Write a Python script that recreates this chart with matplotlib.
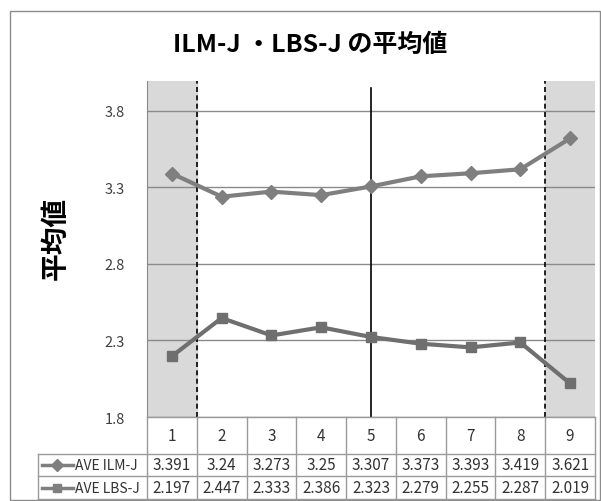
import matplotlib.pyplot as plt
from matplotlib.patches import Rectangle
from matplotlib.lines import Line2D

plt.rcParams['font.family'] = ['Noto Sans CJK JP', 'DejaVu Sans']

categories = ['1', '2', '3', '4', '5', '6', '7', '8', '9']
ilm = [3.391, 3.24, 3.273, 3.25, 3.307, 3.373, 3.393, 3.419, 3.621]
lbs = [2.197, 2.447, 2.333, 2.386, 2.323, 2.279, 2.255, 2.287, 2.019]
ilm_labels = ['3.391', '3.24', '3.273', '3.25', '3.307', '3.373', '3.393', '3.419', '3.621']
lbs_labels = ['2.197', '2.447', '2.333', '2.386', '2.323', '2.279', '2.255', '2.287', '2.019']
yticks = [1.8, 2.3, 2.8, 3.3, 3.8]

W, H = 601, 502
fig = plt.figure(figsize=(W / 100, H / 100), dpi=100)

def fx(px):
    return px / W

def fy(py):
    return 1 - py / H

# outer chart border
fig.patches.append(Rectangle((fx(10), fy(501)), fx(590), 489 / H, transform=fig.transFigure,
                             fill=False, edgecolor='#8c8c8c', lw=1))

ax = fig.add_axes([fx(147), fy(418), fx(448), 336 / H])
n = len(categories)
x = list(range(1, n + 1))
ax.set_xlim(0.5, n + 0.5)
ax.set_ylim(1.8, 3.996)

ax.axvspan(0.5, 1.5, color='#d9d9d9', zorder=0)
ax.axvspan(n - 0.5, n + 0.5, color='#d9d9d9', zorder=0)
for t in yticks:
    ax.axhline(t, color='#8a8a8a', lw=1, zorder=1)
ax.axvline(1.5, color='black', ls=(0, (3, 2)), lw=1.2, zorder=2)
ax.axvline(n - 0.5, color='black', ls=(0, (3, 2)), lw=1.2, zorder=2)
ax.axvline(5, color='black', lw=1.2, zorder=2, ymax=(3.95 - 1.8) / (3.996 - 1.8))

ax.plot(x, ilm, color='#7f7f7f', lw=3, marker='D', ms=7, zorder=3)
ax.plot(x, lbs, color='#6f6f6f', lw=3, marker='s', ms=7, zorder=3)

ax.set_xticks([])
ax.set_yticks(yticks)
ax.set_yticklabels([f'{t:.1f}' for t in yticks], fontsize=10.5, color='#404040')
ax.tick_params(axis='y', length=0, pad=16)
for s in ['top', 'right', 'bottom']:
    ax.spines[s].set_visible(False)
ax.spines['left'].set_color('#8a8a8a')

fig.text(fx(310), fy(45), 'ILM-J ・LBS-J の平均値', ha='center', va='center',
         fontsize=18, fontweight='bold')
fig.text(fx(56), fy(238), '平均値', ha='center', va='center', rotation=90,
         fontsize=20, fontweight='bold')

# data table
col_w = 448 / n
lc = '#9a9a9a'
def hline(y, x0, x1):
    fig.add_artist(Line2D([fx(x0), fx(x1)], [fy(y), fy(y)], color=lc, lw=1, transform=fig.transFigure))
def vline(xp, y0, y1):
    fig.add_artist(Line2D([fx(xp), fx(xp)], [fy(y0), fy(y1)], color=lc, lw=1, transform=fig.transFigure))

hline(418, 147, 595)
hline(455, 38, 595)
hline(477, 38, 595)
hline(500, 38, 595)
vline(38, 455, 500)
for i in range(n + 1):
    vline(147 + i * col_w, 418, 500)

for i, c in enumerate(categories):
    cx = 147 + (i + 0.5) * col_w
    fig.text(fx(cx), fy(437), c, ha='center', va='center', fontsize=11, color='#333333')
    fig.text(fx(cx), fy(466), ilm_labels[i], ha='center', va='center', fontsize=11, color='#333333')
    fig.text(fx(cx), fy(489), lbs_labels[i], ha='center', va='center', fontsize=11, color='#333333')

for y, mk, name in [(466, 'D', 'AVE ILM-J'), (489, 's', 'AVE LBS-J')]:
    fig.add_artist(Line2D([fx(42), fx(73)], [fy(y), fy(y)], color='#7f7f7f', lw=2.5,
                          transform=fig.transFigure))
    fig.add_artist(Line2D([fx(57)], [fy(y)], color='#7f7f7f', marker=mk, ms=6,
                          transform=fig.transFigure))
    fig.text(fx(75), fy(y), name, ha='left', va='center', fontsize=10, color='#333333')

fig.savefig('out.png', dpi=100)
